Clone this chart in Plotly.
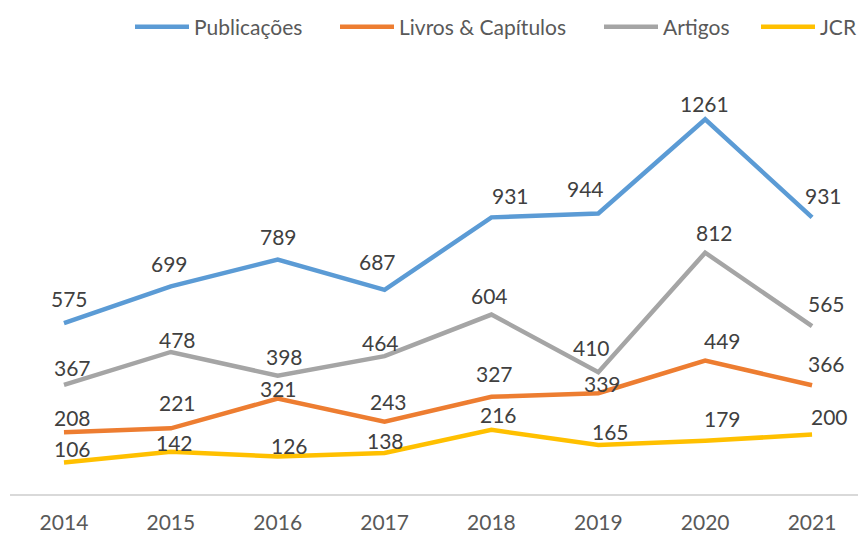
import plotly.graph_objects as go

years = ["2014", "2015", "2016", "2017", "2018", "2019", "2020", "2021"]
publicacoes = [575, 699, 789, 687, 931, 944, 1261, 931]
livros = [208, 221, 321, 243, 327, 339, 449, 366]
artigos = [367, 478, 398, 464, 604, 410, 812, 565]
jcr = [106, 142, 126, 138, 216, 165, 179, 200]

series_names = ["Publicações", "Livros & Capítulos", "Artigos", "JCR"]
series_values = [publicacoes, livros, artigos, jcr]
colors = ["#5B9BD5", "#ED7D31", "#A5A5A5", "#FFC000"]

# label offsets (pixels) relative to the point: (dx, dy)
label_dx = [
    [6, -1, 1, -7, 19, -13, -1, 11],
    [9, 7, 1, 4, 3, 4, 17, 14],
    [9, 7, 7, -4, -2, -7, 9, 14],
    [9, 4, 12, 1, 7, 12, 17, 17],
]
label_dy = [
    [25, 23, 23, 28, 22, 25, 16, 22],
    [15, 26, 10, 20, 23, 10, 20, 22],
    [17, 12, 19, 14, 19, 25, 20, 23],
    [14, 9, 11, 12, 15, 13, 22, 18],
]

FONT = "Lato, 'Open Sans', sans-serif"
L, R, T, B = 10, 0, 78, 40
W, H = 858, 534
plot_w = W - L - R
legend_text_x = [194, 399, 663, 820]
ITEMW = 54

fig = go.Figure()
legend_ids = ["legend", "legend2", "legend3", "legend4"]
for name, vals, col, lid in zip(series_names, series_values, colors, legend_ids):
    fig.add_trace(go.Scatter(
        x=years, y=vals, name=name, mode="lines",
        line=dict(color=col, width=4.5),
        legend=lid, hoverinfo="x+y+name",
    ))

annotations = []
for vals, dxs, dys in zip(series_values, label_dx, label_dy):
    for i, (v, dx, dy) in enumerate(zip(vals, dxs, dys)):
        annotations.append(dict(
            x=i, y=v, xref="x", yref="y", text=str(v), showarrow=False,
            xshift=dx, yshift=dy, xanchor="center", yanchor="middle",
            font=dict(family=FONT, size=21, color="#404040"),
        ))

layout_legends = {}
for lid, tx in zip(legend_ids, legend_text_x):
    layout_legends[lid] = dict(
        x=(tx - ITEMW - 10 - L) / plot_w, y=(H - B - 27) / (H - T - B),
        xanchor="left", yanchor="middle", orientation="h",
        itemwidth=ITEMW,
        bgcolor="rgba(0,0,0,0)", borderwidth=0,
        font=dict(family=FONT, size=21, color="#595959"),
    )

fig.update_layout(
    width=W, height=H,
    margin=dict(l=L, r=R, t=T, b=B, autoexpand=False),
    paper_bgcolor="white", plot_bgcolor="white",
    showlegend=True,
    annotations=annotations,
    xaxis=dict(
        type="category", range=[-0.505, 7.43],
        showgrid=False, zeroline=False,
        showline=True, linecolor="#D9D9D9", linewidth=2,
        ticks="", ticklabelstandoff=9,
        tickfont=dict(family=FONT, size=21, color="#595959"),
    ),
    yaxis=dict(
        range=[0, 1400], visible=False, showgrid=False, zeroline=False,
    ),
    **layout_legends,
)

fig.write_html(
    "out.html",
    config={"displayModeBar": False},
    post_script="document.body.style.margin='0';document.body.style.overflow='hidden';",
)
